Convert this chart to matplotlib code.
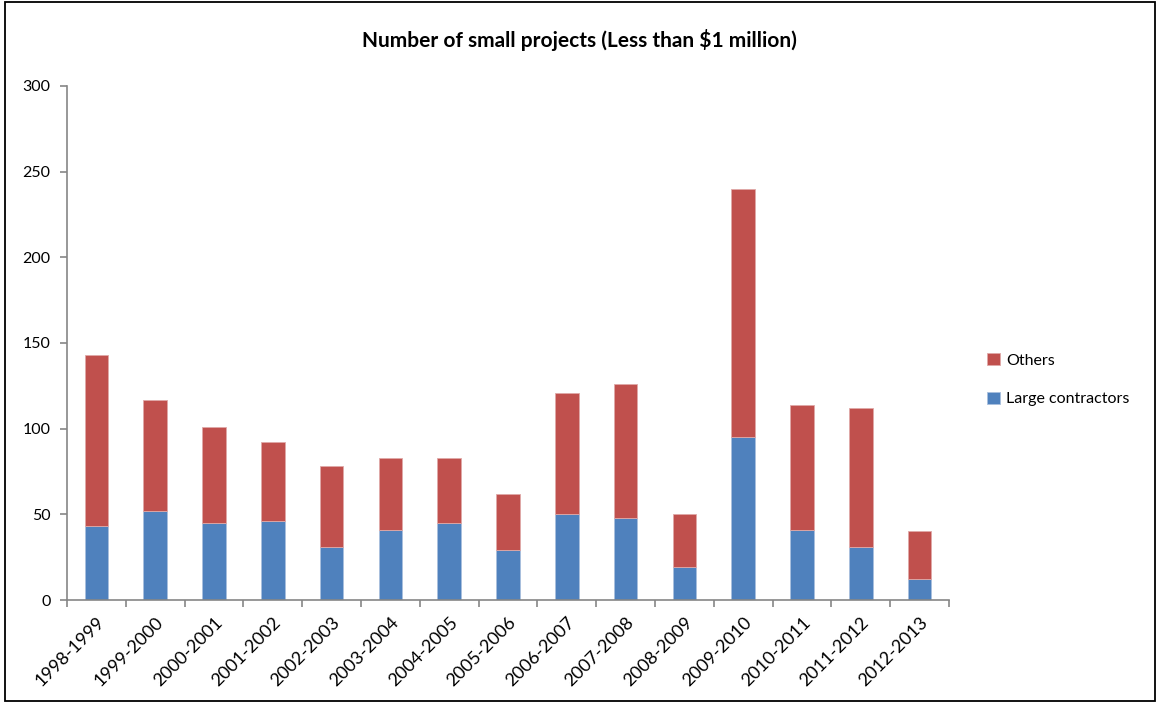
import matplotlib
matplotlib.use("Agg")
import matplotlib.pyplot as plt
from matplotlib.patches import Rectangle
from matplotlib.ticker import FixedLocator
import numpy as np

plt.rcParams['font.family'] = ['Lato', 'DejaVu Sans']

periods = ["1998-1999", "1999-2000", "2000-2001", "2001-2002", "2002-2003",
           "2003-2004", "2004-2005", "2005-2006", "2006-2007", "2007-2008",
           "2008-2009", "2009-2010", "2010-2011", "2011-2012", "2012-2013"]
large_contractors = [43, 52, 45, 46, 31, 41, 45, 29, 50, 48, 19, 95, 41, 31, 12]
others = [100, 65, 56, 46, 47, 42, 38, 33, 71, 78, 31, 145, 73, 81, 28]

blue = "#4f81bd"
red = "#c0504d"
axis_gray = "#868686"

fig = plt.figure(figsize=(11.58, 7.03), dpi=100)
ax = fig.add_axes([0.0579, 0.1465, 0.7616, 0.7312])

x = np.arange(len(periods))
ax.bar(x, large_contractors, width=0.40, color=blue, label="Large contractors",
       edgecolor="#a9c0dd", linewidth=0.6)
ax.bar(x, others, width=0.40, bottom=large_contractors, color=red, label="Others",
       edgecolor="#e0a9a8", linewidth=0.6)

ax.set_xlim(-0.5, len(periods) - 0.5)
ax.set_ylim(0, 300)
ax.set_yticks(range(0, 301, 50))

ax.set_xticks(x)
ax.set_xticklabels(periods, rotation=45, ha="right", rotation_mode="anchor",
                   fontsize=13)
ax.tick_params(axis="x", which="major", length=0, pad=10)
ax.xaxis.set_minor_locator(FixedLocator(np.arange(-0.5, len(periods), 1.0)))
ax.tick_params(axis="x", which="minor", length=5, width=1.2, color=axis_gray,
               direction="out")
ax.tick_params(axis="y", length=5, width=1.2, color=axis_gray, direction="out",
               labelsize=11.5, pad=7)

for side in ("top", "right"):
    ax.spines[side].set_visible(False)
for side in ("left", "bottom"):
    ax.spines[side].set_color(axis_gray)
    ax.spines[side].set_linewidth(1.2)

fig.text(0.5, 0.943, "Number of small projects (Less than $1 million)",
         ha="center", va="center", fontsize=15, fontweight="bold")

handles, labels = ax.get_legend_handles_labels()
fig.legend(handles[::-1], labels[::-1], loc="center left",
           bbox_to_anchor=(0.840, 0.460), frameon=False, fontsize=11.5,
           handlelength=0.8, handleheight=0.8, handletextpad=0.4,
           labelspacing=1.5)

# outer chart frame
fig.add_artist(Rectangle((0.0043, 0.0025), 0.9930, 0.9945, transform=fig.transFigure,
                         fill=False, edgecolor="black", linewidth=1.3))

fig.savefig("out.png", dpi=100)
